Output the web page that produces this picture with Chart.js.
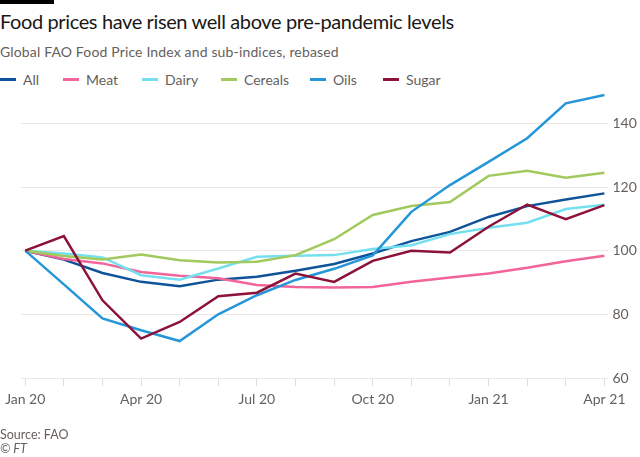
<!DOCTYPE html>
<html>
<head>
<meta charset="utf-8">
<script src="https://cdn.jsdelivr.net/npm/chart.js@4"></script>
<style>
  html, body { margin: 0; padding: 0; background: #ffffff; }
  body { width: 640px; height: 457px; position: relative; overflow: hidden; font-family: Lato, "Open Sans", sans-serif; }
  #bar { position: absolute; left: 0; top: 0; width: 54px; height: 4px; background: #000; }
  .t { position: absolute; left: 0; white-space: nowrap; line-height: 1; }
  #title { top: 11.3px; font-size: 20px; color: #1a1817; letter-spacing: -0.38px; }
  #subtitle { top: 44.6px; font-size: 14px; color: #66605c; letter-spacing: 0.15px; }
  #legend { position: absolute; left: 0; top: 72.9px; width: 640px; height: 16px; font-size: 14px; line-height: 1; color: #66605c; }
  .item { position: absolute; top: 0; display: flex; align-items: center; white-space: nowrap; }
  .sw { width: 16px; height: 3px; margin-right: 7px; }
  #source { top: 428.5px; font-size: 12.5px; color: #66605c; }
  #ft { top: 442.5px; font-size: 12.5px; color: #66605c; font-style: italic; }
  canvas { position: absolute; left: 0; top: 0; }
</style>
</head>
<body>
<div id="bar"></div>
<div class="t" id="title">Food prices have risen well above pre-pandemic levels</div>
<div class="t" id="subtitle">Global FAO Food Price Index and sub-indices, rebased</div>
<div id="legend"></div>
<canvas id="c" width="640" height="457"></canvas>
<div class="t" id="source">Source: FAO</div>
<div class="t" id="ft">© FT</div>
<script>
const months = ['Jan 20','Feb 20','Mar 20','Apr 20','May 20','Jun 20','Jul 20','Aug 20','Sep 20','Oct 20','Nov 20','Dec 20','Jan 21','Feb 21','Mar 21','Apr 21'];
const tickLabels = ['Jan 20','','','Apr 20','','','Jul 20','','','Oct 20','','','Jan 21','','','Apr 21'];
const yTicks = [60, 80, 100, 120, 140];
const seriesNames = ['All','Meat','Dairy','Cereals','Oils','Sugar'];
const allIdx   = [100, 97.2, 93.0, 90.2, 88.8, 90.9, 91.8, 93.7, 95.8, 99.1, 103.0, 105.9, 110.6, 114.0, 116.1, 118.0];
const meat     = [100, 97.4, 96.0, 93.3, 92.1, 91.3, 89.2, 88.6, 88.4, 88.6, 90.2, 91.6, 92.8, 94.6, 96.7, 98.4];
const dairy    = [100, 99.1, 97.9, 92.3, 90.9, 94.4, 98.1, 98.4, 98.6, 100.5, 101.7, 105.2, 107.2, 108.8, 113.1, 114.4];
const cereals  = [100, 98.3, 97.2, 98.8, 97.0, 96.3, 96.5, 98.6, 103.6, 111.2, 114.0, 115.3, 123.5, 125.1, 122.9, 124.5];
const oils     = [100, 89.4, 78.7, 75.0, 71.6, 80.0, 86.0, 90.8, 94.3, 98.5, 112.2, 120.6, 127.9, 135.3, 146.3, 148.9];
const sugar    = [100, 104.6, 84.4, 72.4, 77.6, 85.7, 86.8, 92.8, 90.2, 96.8, 100.0, 99.4, 107.5, 114.5, 109.9, 114.3];
const colors   = ['#0f5499', '#f2649a', '#74e0ef', '#a1c95c', '#2596d8', '#8c1239'];

const seriesValues = [allIdx, meat, dairy, cereals, oils, sugar];
const legendLeft = [0, 63, 142, 221, 310, 383];

// HTML legend
const legend = document.getElementById('legend');
seriesNames.forEach((n, i) => {
  const it = document.createElement('div'); it.className = 'item';
  it.style.left = legendLeft[i] + 'px';
  const sw = document.createElement('span'); sw.className = 'sw'; sw.style.background = colors[i];
  const tx = document.createElement('span'); tx.textContent = n;
  it.appendChild(sw); it.appendChild(tx); legend.appendChild(it);
});

const datasets = seriesNames.map((n, i) => ({
  label: n,
  data: seriesValues[i].map((v, k) => ({ x: k, y: v })),
  borderColor: colors[i],
  backgroundColor: colors[i],
  borderWidth: 2.5,
  pointRadius: 0,
  tension: 0,
  fill: false,
  order: seriesNames.length - i
}));

new Chart(document.getElementById('c'), {
  type: 'line',
  data: { datasets },
  options: {
    responsive: false,
    animation: false,
    layout: { padding: { left: 19, top: 91.5, right: 0, bottom: 39 } },
    plugins: { legend: { display: false }, tooltip: { enabled: false } },
    scales: {
      x: {
        type: 'linear',
        min: -0.1,
        max: 15.08,
        afterFit: (s) => { s.height = 40; },
        afterBuildTicks: (s) => { s.ticks = months.map((m, k) => ({ value: k })); },
        border: { display: false },
        grid: { drawOnChartArea: false, drawTicks: true, tickLength: 8, color: '#e3ddd7', lineWidth: 1 },
        ticks: {
          autoSkip: false, maxRotation: 0, padding: 5,
          color: '#66605c', font: { family: 'Lato', size: 14 },
          callback: (v) => tickLabels[Math.round(v)]
        }
      },
      y: {
        position: 'right',
        min: 60,
        max: 150,
        afterFit: (s) => { s.width = 32.5; },
        afterBuildTicks: (s) => { s.ticks = yTicks.map(v => ({ value: v })); },
        border: { display: false },
        grid: { drawTicks: false, color: '#ece7e2', lineWidth: 1 },
        ticks: { padding: 5, color: '#66605c', font: { family: 'Lato', size: 14 } }
      }
    }
  }
});
</script>
</body>
</html>
